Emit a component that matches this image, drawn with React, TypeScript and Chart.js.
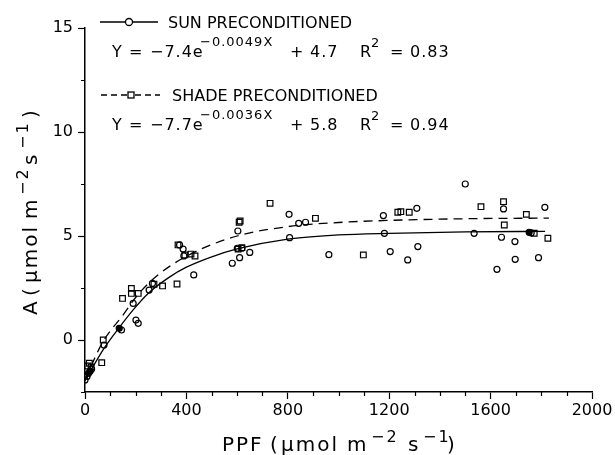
import { useEffect, useRef } from 'react';
import { Chart, registerables } from 'chart.js';

Chart.register(...registerables);

// ---- data ----
const sunX = [0, 8, 14, 20, 26, 75, 135, 144, 190, 201, 210, 253, 266, 373, 387, 390, 429, 581, 601, 603, 610, 619, 650, 805, 807, 843, 870, 962, 1177, 1181, 1204, 1273, 1309, 1313, 1500, 1535, 1625, 1643, 1651, 1696, 1697, 1752, 1760, 1789, 1814];
const sunY = [-1.92, -1.75, -1.6, -1.5, -1.4, -0.24, 0.56, 0.48, 1.76, 0.96, 0.8, 2.4, 2.72, 4.57, 4.37, 4.04, 3.13, 3.69, 4.41, 5.24, 3.96, 4.41, 4.21, 6.04, 4.92, 5.61, 5.66, 4.1, 5.98, 5.13, 4.25, 3.85, 6.33, 4.49, 7.5, 5.13, 3.4, 4.94, 6.3, 4.73, 3.88, 5.18, 5.15, 3.96, 6.38];
const sunFilled = [2, 3, 6, 41];

const shadeX = [10, 17, 24, 66, 72, 148, 183, 183, 210, 272, 306, 363, 367, 394, 418, 434, 604, 608, 612, 619, 730, 909, 1098, 1234, 1246, 1279, 1562, 1651, 1654, 1741, 1772, 1826];
const shadeY = [-1.25, -1.12, -1.3, -1.09, 0.0, 2.0, 2.48, 2.24, 2.24, 2.68, 2.6, 2.69, 4.57, 4.09, 4.13, 4.04, 4.37, 5.66, 5.72, 4.44, 6.57, 5.85, 4.09, 6.14, 6.17, 6.14, 6.41, 6.65, 5.53, 6.04, 5.13, 4.89];

// fitted curves
const sunFitX = [0, 75, 135, 190, 250, 330, 400, 500, 600, 800, 1000, 1200, 1500, 1815];
const sunFitY = [-1.95, -0.4, 0.6, 1.45, 2.25, 3.0, 3.5, 4.0, 4.38, 4.85, 5.05, 5.13, 5.2, 5.22];
const shadeFitX = [0, 70, 150, 210, 290, 420, 600, 800, 1000, 1200, 1500, 1830];
const shadeFitY = [-1.9, -0.1, 1.2, 2.2, 3.15, 4.15, 5.0, 5.45, 5.65, 5.75, 5.83, 5.86];

const xTickValues = [0, 400, 800, 1200, 1600, 2000];
const yTickValues = [0, 5, 10, 15];

const sunLabel = 'SUN PRECONDITIONED';
const shadeLabel = 'SHADE PRECONDITIONED';
const sunEq = ['−7.4e', '−0.0049X', '4.7', '0.83'];
const shadeEq = ['−7.7e', '−0.0036X', '5.8', '0.94'];

const FONT = '"DejaVu Sans", sans-serif';

type Piece = [string, number, number, number];

function drawPieces(ctx: CanvasRenderingContext2D, pieces: Piece[], baseY: number, spacing = '0px') {
  (ctx as any).letterSpacing = spacing;
  for (const [t, x, dy, size] of pieces) {
    ctx.font = `${size}px ${FONT}`;
    ctx.fillText(t, x, baseY + dy);
  }
  (ctx as any).letterSpacing = '0px';
}

function eqPieces(eq: string[]): Piece[] {
  return [
    ['Y', 112, 0, 16],
    ['=', 129, 0, 16],
    [eq[0], 150, 0, 16],
    [eq[1], 200, -11, 13],
    ['+', 290, 0, 16],
    [eq[2], 310, 0, 16],
    ['R', 360, 0, 16],
    ['2', 371, -10, 13],
    ['=', 390, 0, 16],
    [eq[3], 410, 0, 16],
  ];
}

const overlayPlugin = {
  id: 'overlay',
  afterDraw(chart: any) {
    const ctx: CanvasRenderingContext2D = chart.ctx;
    const xs = chart.scales.x;
    const ys = chart.scales.y;
    const area = chart.chartArea;
    ctx.save();
    ctx.strokeStyle = '#000';
    ctx.fillStyle = '#000';
    ctx.lineWidth = 1.2;

    // minor ticks
    ctx.beginPath();
    for (let v = 100; v < 2000; v += 100) {
      if (v % 400 === 0) continue;
      const px = Math.round(xs.getPixelForValue(v)) + 0.5;
      ctx.moveTo(px, area.bottom);
      ctx.lineTo(px, area.bottom + 4);
    }
    for (let v = -2.5; v <= 15; v += 5) {
      const py = Math.round(ys.getPixelForValue(v)) + 0.5;
      ctx.moveTo(area.left, py);
      ctx.lineTo(area.left - 4, py);
    }
    ctx.stroke();

    // legend row 1
    ctx.lineWidth = 1.3;
    ctx.beginPath();
    ctx.moveTo(100, 22);
    ctx.lineTo(125.5, 22);
    ctx.moveTo(132.5, 22);
    ctx.lineTo(158, 22);
    ctx.stroke();
    ctx.beginPath();
    ctx.arc(129, 22, 3.5, 0, Math.PI * 2);
    ctx.stroke();
    ctx.textBaseline = 'alphabetic';
    ctx.textAlign = 'left';
    ctx.font = `16px ${FONT}`;
    ctx.fillText(sunLabel, 168, 28);
    drawPieces(ctx, eqPieces(sunEq), 57, '1px');

    // legend row 2
    ctx.setLineDash([6, 4]);
    ctx.beginPath();
    ctx.moveTo(101, 95);
    ctx.lineTo(127, 95);
    ctx.moveTo(135, 95);
    ctx.lineTo(160, 95);
    ctx.stroke();
    ctx.setLineDash([]);
    ctx.strokeRect(128, 92, 6, 6);
    ctx.font = `16px ${FONT}`;
    ctx.fillText(shadeLabel, 172, 101);
    drawPieces(ctx, eqPieces(shadeEq), 130, '1px');

    // x title
    drawPieces(
      ctx,
      [
        ['PPF', 222, 0, 20],
        ['(', 270, 0, 20],
        ['μmol', 281, 0, 20],
        ['m', 347, 0, 20],
        ['−2', 371, -9, 16],
        ['s', 408, 0, 20],
        ['−1', 423, -9, 16],
        [')', 447, 0, 20],
      ],
      451,
      '2px'
    );

    // y title (rotated)
    ctx.translate(37, 315);
    ctx.rotate(-Math.PI / 2);
    drawPieces(
      ctx,
      [
        ['A', 0, 0, 20],
        ['(', 19, 0, 20],
        ['μmol', 32, 0, 20],
        ['m', 96, 0, 20],
        ['−2', 120, -9, 16],
        ['s', 150, 0, 20],
        ['−1', 166, -9, 16],
        [')', 197, 0, 20],
      ],
      0,
      '2px'
    );
    ctx.restore();
  },
};

export default function App() {
  const ref = useRef<HTMLCanvasElement | null>(null);

  useEffect(() => {
    if (!ref.current) return;
    const pts = (xs: number[], ys: number[]) => xs.map((x, i) => ({ x, y: ys[i] }));
    const chart = new Chart(ref.current, {
      type: 'scatter',
      data: {
        datasets: [
          {
            data: pts(sunFitX, sunFitY),
            showLine: true,
            borderColor: '#000',
            borderWidth: 1.3,
            pointRadius: 0,
            cubicInterpolationMode: 'monotone',
          } as any,
          {
            data: pts(shadeFitX, shadeFitY),
            showLine: true,
            borderColor: '#000',
            borderWidth: 1.3,
            borderDash: [9, 6],
            pointRadius: 0,
            cubicInterpolationMode: 'monotone',
          } as any,
          {
            data: pts(sunX, sunY),
            showLine: false,
            pointStyle: 'circle',
            pointRadius: 3,
            pointBorderWidth: 1.2,
            pointBorderColor: '#000',
            pointBackgroundColor: (c: any) => (sunFilled.includes(c.dataIndex) ? '#000' : 'rgba(0,0,0,0)'),
          } as any,
          {
            data: pts(shadeX, shadeY),
            showLine: false,
            pointStyle: 'rect',
            pointRadius: 4,
            pointBorderWidth: 1.2,
            pointBorderColor: '#000',
            pointBackgroundColor: 'rgba(0,0,0,0)',
          } as any,
        ],
      },
      options: {
        responsive: false,
        devicePixelRatio: 1,
        animation: false,
        events: [],
        layout: { padding: { left: 0, right: 23, top: 28, bottom: 0 } },
        plugins: { legend: { display: false }, tooltip: { enabled: false } },
        scales: {
          x: {
            type: 'linear',
            min: 0,
            max: 2000,
            afterFit: (s: any) => {
              s.height = 63;
            },
            afterBuildTicks: (s: any) => {
              s.ticks = xTickValues.map((v) => ({ value: v }));
            },
            ticks: {
              autoSkip: false,
              maxRotation: 0,
              color: '#000',
              padding: 2,
              font: { family: 'DejaVu Sans', size: 16 },
              callback: (v: any) => String(v),
            },
            grid: { drawOnChartArea: false, drawTicks: true, tickLength: 7, tickColor: '#000', tickWidth: 1.2 },
            border: { display: true, color: '#000', width: 1.5 },
          },
          y: {
            type: 'linear',
            min: -2.5,
            max: 15,
            afterFit: (s: any) => {
              s.width = 85;
            },
            afterBuildTicks: (s: any) => {
              s.ticks = yTickValues.map((v) => ({ value: v }));
            },
            ticks: {
              autoSkip: false,
              color: '#000',
              padding: 5,
              font: { family: 'DejaVu Sans', size: 16 },
              callback: (v: any) => String(v),
            },
            grid: { drawOnChartArea: false, drawTicks: true, tickLength: 7, tickColor: '#000', tickWidth: 1.2 },
            border: { display: true, color: '#000', width: 1.5 },
          },
        },
      } as any,
      plugins: [overlayPlugin],
    });
    return () => chart.destroy();
  }, []);

  return (
    <div style={{ position: 'absolute', left: 0, top: 0, width: 615, height: 455 }}>
      <canvas ref={ref} width={615} height={455} style={{ display: 'block' }} />
    </div>
  );
}
